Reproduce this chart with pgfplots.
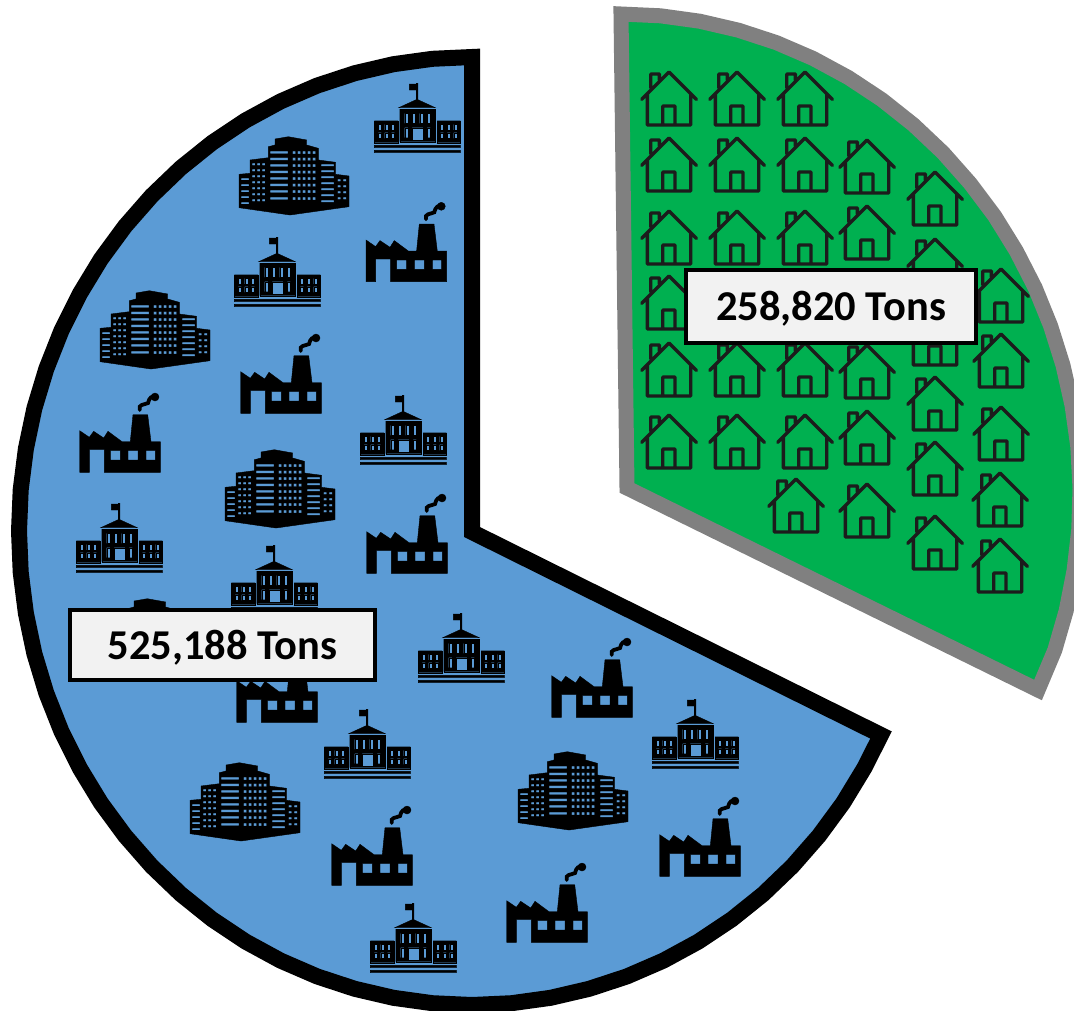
\documentclass[border=0pt]{standalone}
\usepackage{pgfplots}
\pgfplotsset{compat=1.18}
\usepackage{fontspec}
\setmainfont{Carlito}
\definecolor{pieblue}{HTML}{5B9BD5}
\definecolor{piegreen}{HTML}{00B050}
\definecolor{piegrey}{HTML}{808080}
\definecolor{boxfill}{HTML}{F2F2F2}
\definecolor{houseink}{HTML}{1C1C1C}
\pgfdeclareplotmark{house}{%
  \draw[x=1pt,y=1pt,houseink,line width=3.4pt,line cap=round,line join=round]
    (-27.3,-1.3) -- (0,26) -- (27.3,-1.3)
    (-21.7,4) -- (-21.7,-27) -- (21.7,-27) -- (21.7,4)
    (-6.3,-27) -- (-6.3,-8) -- (6,-8) -- (6,-27)
    (-18.3,10) -- (-18.3,24) -- (-9.7,24) -- (-9.7,18);
}
\pgfdeclareplotmark{school}{%
  \fill[x=1pt,y=1pt,black] (-0.8,18) rectangle (0.8,34.7) (-7.7,28) rectangle (0,34)
    (0,18.7) -- (-18.3,10.3) -- (18.3,10.3) -- cycle
    (-42.7,-27.3) rectangle (43.3,-29.7)
    (-42.7,-32.3) rectangle (43.3,-34.7);
  \fill[x=1pt,y=1pt,black,even odd rule]
    (-17.3,9) rectangle (18,-23.7)
    (-42.7,-2.7) rectangle (-19,-24.7)
    (20,-2.7) rectangle (43.3,-24.7)
    (-5,-9.7) rectangle (6,-22)
    \foreach \a in {-12.3,-5,2.7,10}{ (\a,4.7) rectangle ++(3.3,-10) }
    \foreach \a in {-12.3,10}{ (\a,-9.7) rectangle ++(3.3,-10) }
    \foreach \a in {-39,-32.3,-25.7,23.3,30,36.7}{
      (\a,-6.3) rectangle ++(3.3,-5.7)
      (\a,-14.7) rectangle ++(3.3,-5.6) };
}
\pgfdeclareplotmark{factory}{%
  \fill[x=1pt,y=1pt,black,even odd rule]
    (-40.3,3.3) -- (-40.3,-38.3) -- (-30.7,-38.3) -- (-30.7,-15.7) -- (-15.7,-15.7)
    -- (-15.7,-38.3) -- (40.3,-38.3) -- (40.3,-7.7) -- (31,-7.7) -- (27.7,19.3)
    -- (13,19.3) -- (10.3,-7.7) -- (2,-7.7) -- (-12,2.7) -- (-16.3,-4) -- (-26.3,2.7)
    -- (-30.7,-3.3) -- cycle
    (-9.7,-16.7) rectangle (0.3,-26)
    (8,-16.7) rectangle (18,-26)
    (26,-16.7) rectangle (35.3,-26);
  \draw[x=1pt,y=1pt,black,line width=3.8pt,line cap=round]
    (19.7,24) .. controls (18,30) and (24,29) .. (28,31) .. controls (29,36) and (32,39) .. (37,37.5);
  \fill[x=1pt,y=1pt,black] (35,37) circle (4pt);
}
\pgfdeclareplotmark{office}{%
  \fill[x=1pt,y=1pt,black,even odd rule]
    (-51,0.7) -- (-40,1.7) -- (-40,15) -- (-21.7,17.3) -- (-21.7,28.3) -- (-15,30)
    -- (-15,36) -- (-1.7,38.3) -- (16.7,35) -- (16.7,30) -- (28.3,26.7) -- (28.3,15)
    -- (45.7,12.7) -- (45.7,0.7) -- (59,-1) -- (59,-31.7) -- (0,-40) -- (-51,-32.7) -- cycle
    \foreach \b in {24,17.5,11,4.5,-2,-8.5,-15,-22}{ (-20,\b) rectangle ++(18,-2.8) }
    \foreach \b in {24,17.5,11,4.5,-2,-8.5,-15,-22}{
      \foreach \a in {2.5,7.5,12.5,17.5,22.5}{ (\a,\b) rectangle ++(3,-3) } }
    \foreach \b in {12,6,0,-6,-12,-18,-24}{
      \foreach \a in {-38,-33,-28}{ (\a,\b) rectangle ++(3.2,-2.6) } }
    \foreach \b in {-3,-9,-15,-21,-27}{ (-49,\b) rectangle ++(8,-2.2) }
    \foreach \b in {11,5,-1,-7,-13,-19,-25}{ (31,\b) rectangle ++(13,-2.4) }
    \foreach \b in {-4,-10,-16,-22}{
      \foreach \a in {47.5,53}{ (\a,\b) rectangle ++(3.4,-2.6) } };
}
\begin{document}
\begin{tikzpicture}
\path[use as bounding box] (0,0) rectangle (1074pt,1010pt);
\begin{axis}[
  scale only axis, width=1074pt, height=1010pt,
  xmin=0, xmax=1074, ymin=0, ymax=1010, y dir=reverse,
  axis lines=none, clip=true,
  after end axis/.code={
    \node[draw=black, line width=4pt, fill=boxfill, minimum width=305pt, minimum height=70pt, inner sep=0pt] at (axis cs:222.5,644.5) {};
    \node[font=\fontsize{42.5}{50}\selectfont\bfseries, inner sep=0pt] at (axis cs:222.5,648) {525,188 Tons};
    \node[draw=black, line width=4pt, fill=boxfill, minimum width=290pt, minimum height=73pt, inner sep=0pt] at (axis cs:831,306.5) {};
    \node[font=\fontsize{42.5}{50}\selectfont\bfseries, inner sep=0pt] at (axis cs:831,308.5) {258,820 Tons};
  }]
% blue slice (525,188 Tons)
\addplot[fill=pieblue, draw=black, line width=16pt, line join=miter, miter limit=10] coordinates {
 (472,532) (472,57) (432.5,58.8) (393.4,64.2) (354.8,73.2) (317.1,85.6) (280.6,101.4)
 (245.5,120.5) (212.2,142.7) (180.8,167.9) (151.7,195.8) (125,226.3) (100.9,259.1)
 (79.7,294) (61.4,330.7) (46.3,368.9) (34.4,408.3) (25.9,448.7) (20.7,489.7) (19,531)
 (20.7,572.3) (25.9,613.3) (34.4,653.7) (46.3,693.1) (61.4,731.3) (79.7,768) (100.9,802.9)
 (125,835.7) (151.7,866.2) (180.8,894.1) (212.2,919.3) (245.5,941.5) (280.6,960.6)
 (317.1,976.4) (354.8,988.8) (393.4,997.8) (432.5,1003.2) (472,1005) (511.5,1003.2)
 (550.6,997.8) (589.2,988.8) (626.9,976.4) (663.4,960.6) (698.5,941.5) (731.8,919.3)
 (763.2,894.1) (792.3,866.2) (819,835.7) (843.1,802.9) (864.3,768) (881,735)
} --cycle;
% green slice (258,820 Tons)
\addplot[fill=piegreen, draw=piegrey, line width=15pt, line join=miter, miter limit=10] coordinates {
 (627,488) (621,14) (660.5,15.8) (699.7,21.2) (738.4,30.2) (776.3,42.6) (813,58.4)
 (848.3,77.5) (881.9,99.7) (913.6,124.9) (943.1,152.8) (970.1,183.3) (994.7,216.1)
 (1016.3,251) (1035.1,287.7) (1050.6,325.9) (1063,365.3) (1072.1,405.7) (1077.8,446.7)
 (1080,488) (1078.8,529.3) (1074.1,570.3) (1066.2,610.7) (1054.8,650.1) (1038,690)
} --cycle;
\addplot[only marks, mark=house] coordinates {
 (669,98) (737,98) (805,98)
 (669,164) (737,164) (805,164) (867,166)
 (935,198)
 (669,237) (737,237) (805,237) (867,232)
 (935,265) (669,302) (1001,295) (935,338)
 (669,369) (737,369) (805,369) (867,371) (1001,360)
 (669,441) (737,441) (805,441) (867,437)
 (935,403) (1001,433) (935,468) (1000,499)
 (796,505) (867,510) (935,542) (1000,565)
};
\addplot[only marks, mark=school] coordinates {
 (417,118) (277,272) (403,430) (119,538) (274,580) (461,648) (367,744) (695,734) (413,938)
};
\addplot[only marks, mark=factory] coordinates {
 (406.3,243.3) (281,375) (120,434) (407,535) (277,684) (592,679) (372,847) (700,838) (547,904)
};
\addplot[only marks, mark=office] coordinates {
 (290,175) (151,329) (276,488) (149,637) (241,801) (569,790)
};
\end{axis}
\end{tikzpicture}
\end{document}
